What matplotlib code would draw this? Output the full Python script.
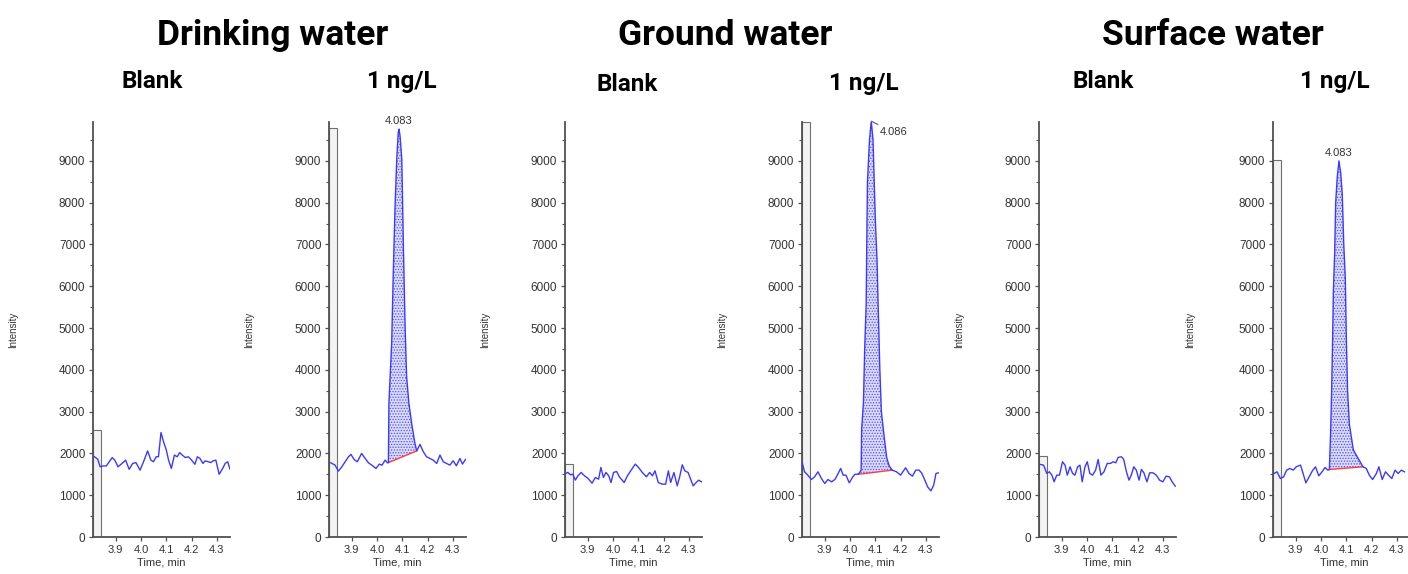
import numpy as np
import matplotlib.pyplot as plt
from matplotlib.ticker import MultipleLocator

plt.rcParams["font.family"] = ["Liberation Sans", "DejaVu Sans"]
plt.rcParams["hatch.linewidth"] = 0.6

# Drinking water - blank
dw_blank_t = [3.816, 3.829, 3.838, 3.849, 3.863, 3.874, 3.886, 3.896, 3.909, 3.923, 3.939,
              3.953, 3.967, 3.980, 3.996, 4.010, 4.026, 4.039, 4.049, 4.060, 4.069, 4.079,
              4.089, 4.100, 4.109, 4.120, 4.132, 4.143, 4.153, 4.163, 4.176, 4.187, 4.200,
              4.213, 4.223, 4.233, 4.245, 4.253, 4.267, 4.276, 4.285, 4.296, 4.309, 4.323,
              4.333, 4.343, 4.352, 4.363]
dw_blank_i = [1920, 1860, 1680, 1700, 1700, 1800, 1900, 1840, 1680, 1750, 1840,
              1620, 1760, 1780, 1600, 1800, 2060, 1840, 1800, 1920, 1920, 2500,
              2280, 2080, 1840, 1640, 1960, 1920, 2020, 1960, 1900, 1920, 1840,
              1740, 1920, 1880, 1760, 1820, 1800, 1780, 1820, 1840, 1500, 1640,
              1760, 1800, 1620, 1820]

# Drinking water - 1 ng/L
dw_1ng_t = [3.817, 3.834, 3.847, 3.861, 3.874, 3.887, 3.897, 3.909, 3.922, 3.939, 3.953,
            3.966, 3.979, 3.996, 4.009, 4.020, 4.032, 4.041, 4.045, 4.047, 4.058, 4.064,
            4.071, 4.078, 4.084, 4.087, 4.091, 4.098, 4.104, 4.111, 4.117, 4.126, 4.137,
            4.150, 4.157, 4.170, 4.183, 4.196, 4.209, 4.222, 4.236, 4.249, 4.262, 4.275,
            4.288, 4.301, 4.314, 4.328, 4.338, 4.350]
dw_1ng_i = [1776, 1720, 1576, 1680, 1800, 1920, 1976, 1856, 1800, 2000, 1880,
            1776, 1720, 1640, 1744, 1720, 1840, 1776, 1780, 3200, 4640, 6240,
            7840, 9040, 9680, 9760, 9600, 9040, 7040, 5040, 3840, 3200, 2720,
            2240, 2060, 2216, 2040, 1920, 1880, 1840, 1760, 1960, 1800, 1760,
            1720, 1824, 1704, 1880, 1744, 1856]

# Ground water - blank
gw_blank_t = [3.812, 3.821, 3.832, 3.841, 3.851, 3.861, 3.874, 3.887, 3.900, 3.917, 3.930,
              3.943, 3.952, 3.962, 3.972, 3.983, 3.992, 4.002, 4.014, 4.025, 4.044, 4.057,
              4.070, 4.088, 4.101, 4.116, 4.132, 4.145, 4.156, 4.166, 4.179, 4.195, 4.208,
              4.219, 4.228, 4.241, 4.254, 4.263, 4.274, 4.284, 4.297, 4.307, 4.317, 4.329,
              4.339, 4.350]
gw_blank_i = [1520, 1544, 1488, 1504, 1360, 1464, 1544, 1464, 1408, 1288, 1424,
              1384, 1664, 1424, 1544, 1464, 1304, 1544, 1568, 1440, 1304, 1464,
              1584, 1744, 1664, 1544, 1440, 1544, 1464, 1584, 1304, 1264, 1264,
              1584, 1304, 1544, 1224, 1424, 1728, 1584, 1544, 1384, 1224, 1304,
              1360, 1320]

# Ground water - 1 ng/L
gw_1ng_t = [3.811, 3.820, 3.833, 3.847, 3.860, 3.873, 3.887, 3.900, 3.913, 3.927, 3.940,
            3.951, 3.963, 3.973, 3.984, 3.997, 4.011, 4.020, 4.033, 4.044, 4.046, 4.053,
            4.058, 4.064, 4.066, 4.069, 4.077, 4.084, 4.091, 4.100, 4.107, 4.111, 4.118,
            4.124, 4.135, 4.145, 4.155, 4.167, 4.184, 4.200, 4.220, 4.233, 4.247, 4.260,
            4.273, 4.283, 4.293, 4.307, 4.320, 4.331, 4.340, 4.351]
gw_1ng_i = [1776, 1560, 1480, 1376, 1440, 1560, 1400, 1280, 1376, 1320, 1376,
            1496, 1640, 1480, 1480, 1296, 1440, 1504, 1500, 1600, 2600, 3200,
            4500, 5600, 6900, 8500, 9500, 9950, 9500, 7600, 6600, 5600, 4000,
            3000, 2400, 1900, 1700, 1600, 1560, 1480, 1656, 1520, 1456, 1600,
            1600, 1536, 1400, 1200, 1104, 1240, 1520, 1536]

# Surface water - blank
sw_blank_t = [3.815, 3.828, 3.841, 3.851, 3.861, 3.870, 3.880, 3.891, 3.903, 3.913, 3.922,
              3.933, 3.943, 3.952, 3.963, 3.972, 3.981, 3.992, 4.001, 4.011, 4.022, 4.034,
              4.044, 4.055, 4.067, 4.080, 4.093, 4.103, 4.114, 4.123, 4.136, 4.145, 4.156,
              4.166, 4.175, 4.185, 4.195, 4.206, 4.215, 4.225, 4.237, 4.248, 4.261, 4.274,
              4.287, 4.300, 4.313, 4.326, 4.337, 4.349]
sw_blank_i = [1736, 1720, 1520, 1560, 1480, 1320, 1480, 1480, 1800, 1720, 1480,
              1680, 1520, 1480, 1680, 1720, 1320, 1680, 1800, 1520, 1480, 1600,
              1856, 1480, 1560, 1760, 1760, 1800, 1776, 1904, 1920, 1856, 1560,
              1360, 1480, 1680, 1600, 1360, 1616, 1536, 1320, 1536, 1536, 1480,
              1360, 1320, 1456, 1440, 1320, 1216]

# Surface water - 1 ng/L
sw_1ng_t = [3.814, 3.826, 3.839, 3.852, 3.864, 3.877, 3.890, 3.902, 3.919, 3.929, 3.940,
            3.953, 3.966, 3.978, 3.991, 4.004, 4.016, 4.027, 4.033, 4.038, 4.042, 4.046,
            4.049, 4.054, 4.058, 4.064, 4.071, 4.078, 4.084, 4.090, 4.096, 4.100, 4.105,
            4.112, 4.128, 4.145, 4.166, 4.179, 4.191, 4.204, 4.219, 4.229, 4.242, 4.255,
            4.267, 4.280, 4.293, 4.305, 4.318, 4.330]
sw_1ng_i = [1520, 1560, 1400, 1440, 1600, 1640, 1600, 1680, 1720, 1520, 1296,
            1440, 1584, 1680, 1464, 1560, 1664, 1600, 1616, 2500, 3500, 4800,
            5900, 6800, 8000, 8600, 9000, 8700, 8200, 7000, 6200, 4800, 3500,
            2700, 2080, 1900, 1680, 1640, 1480, 1376, 1520, 1680, 1376, 1560,
            1480, 1400, 1600, 1520, 1600, 1560]

# grey bar at the left edge of each trace (intensity)
box_heights = [2550, 9780, 1750, 9930, 1950, 9020]

# integrated peak windows (start, end) and retention time labels
peak_windows = [None, (4.045, 4.157), None, (4.033, 4.167), None, (4.033, 4.166)]
rt_labels = [None, "4.083", None, "4.086", None, "4.083"]

group_titles = ["Drinking water", "Ground water", "Surface water"]
sub_titles = ["Blank", "1 ng/L"] * 3

traces = [(dw_blank_t, dw_blank_i), (dw_1ng_t, dw_1ng_i),
          (gw_blank_t, gw_blank_i), (gw_1ng_t, gw_1ng_i),
          (sw_blank_t, sw_blank_i), (sw_1ng_t, sw_1ng_i)]

# layout (pixels)
W, H = 1408, 574
ax_left = [93, 329, 565, 802, 1039, 1273]
ax_width = [137, 137, 137, 137, 137, 142]
ax_top, ax_bottom = 122, 537
title_x = [273, 725, 1213]
sub_x = [152, 402, 627, 864, 1103, 1335]
sub_base = [88, 88, 91, 90, 88, 88]

trace_col = "#3a3aff"
axis_col = "#505050"
text_col = "#333333"

fig = plt.figure(figsize=(W / 100, H / 100), dpi=100)

for k, (t, y) in enumerate(traces):
    ax = fig.add_axes([ax_left[k] / W, 1 - ax_bottom / H,
                       ax_width[k] / W, (ax_bottom - ax_top) / H])
    t = np.array(t)
    y = np.array(y)
    x0, x1 = 3.81, 3.81 + 0.542 * ax_width[k] / 137

    ax.bar(x0, box_heights[k], width=0.03, align="edge",
           color="#f3f3f3", edgecolor="#707070", linewidth=0.8, zorder=1)

    if peak_windows[k] is not None:
        s, e = peak_windows[k]
        m = (t >= s - 1e-9) & (t <= e + 1e-9)
        ts, ys = t[m], y[m]
        base = np.interp(ts, [ts[0], ts[-1]], [ys[0], ys[-1]])
        ax.fill_between(ts, base, ys, facecolor="#dcdcff", edgecolor="#4a4aff",
                        hatch="......", linewidth=0, zorder=2)
        ax.plot([ts[0], ts[-1]], [ys[0], ys[-1]], color="#ff3b3b", lw=1.0, zorder=3)

    ax.plot(t, y, color=trace_col, lw=1.0, zorder=4)

    if rt_labels[k] is not None:
        j = int(np.argmax(y))
        if k == 3:
            ax.annotate(rt_labels[k], (t[j], y[j]), xytext=(6, -8),
                        textcoords="offset points", ha="left", va="center",
                        fontsize=8, color=text_col, annotation_clip=False,
                        arrowprops=dict(arrowstyle="-", lw=0.7, color="#444444",
                                        shrinkA=0, shrinkB=0))
        else:
            ax.annotate(rt_labels[k], (t[j], y[j]), xytext=(0, 2),
                        textcoords="offset points", ha="center", va="bottom",
                        fontsize=8, color=text_col, annotation_clip=False)

    ax.set_xlim(x0, x1)
    ax.set_ylim(0, 9930)
    ax.xaxis.set_major_locator(MultipleLocator(0.1))
    ax.yaxis.set_major_locator(MultipleLocator(1000))
    ax.yaxis.set_minor_locator(MultipleLocator(500))
    ax.xaxis.set_major_formatter(plt.FuncFormatter(lambda v, p: f"{v:.1f}"))
    ax.yaxis.set_major_formatter(plt.FuncFormatter(lambda v, p: f"{v:.0f}"))
    ax.tick_params(axis="both", which="major", length=3, width=0.9, color=axis_col,
                   labelcolor=text_col, pad=2.5)
    ax.tick_params(axis="y", labelsize=8.5)
    ax.tick_params(axis="x", labelsize=8)
    ax.tick_params(axis="y", which="minor", length=2, width=0.8, color=axis_col)
    for sp in ["top", "right"]:
        ax.spines[sp].set_visible(False)
    for sp in ["left", "bottom"]:
        ax.spines[sp].set_color(axis_col)
        ax.spines[sp].set_linewidth(1.3)
    ax.set_xlabel("Time, min", fontsize=8, color=text_col, labelpad=2)
    ax.set_ylabel("Intensity", fontsize=7, color=text_col)
    ax.yaxis.set_label_coords(-0.55, 0.5)

    fig.text(sub_x[k] / W, 1 - sub_base[k] / H, sub_titles[k], ha="center",
             va="baseline", fontsize=17.5, fontweight="bold", family="Roboto")

for g, title in enumerate(group_titles):
    fig.text(title_x[g] / W, 1 - 45 / H, title, ha="center", va="baseline",
             fontsize=25.5, fontweight="bold", family="Roboto")

fig.savefig("out.png", dpi=100)
